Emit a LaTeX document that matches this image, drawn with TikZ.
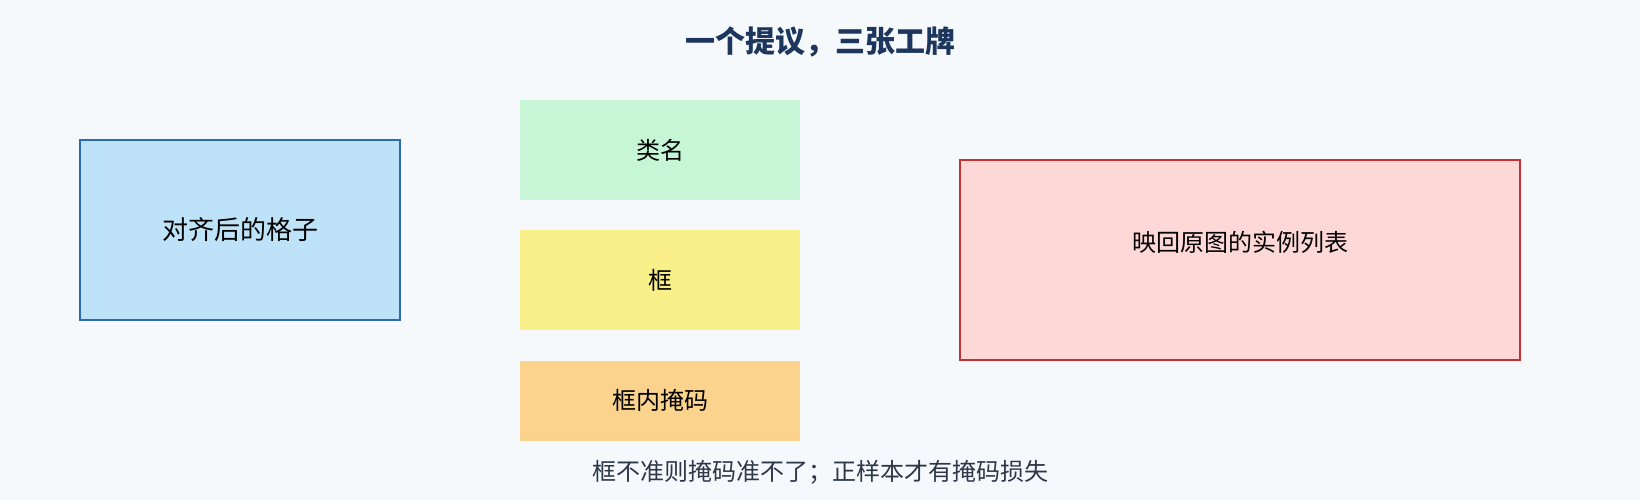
\documentclass[tikz,border=0pt]{standalone}
\usepackage{fontspec}
\newfontfamily\cjk{Noto Sans CJK SC}
\usetikzlibrary{positioning}
\definecolor{bgcol}{HTML}{F5F9FC}
\definecolor{titlecol}{HTML}{1C365D}
\definecolor{notecol}{HTML}{2D3748}
\definecolor{gridfill}{HTML}{BEE3F8}
\definecolor{griddraw}{HTML}{2B6CB0}
\definecolor{clsfill}{HTML}{C6F6D5}
\definecolor{boxfill}{HTML}{FAF089}
\definecolor{maskfill}{HTML}{FBD38D}
\definecolor{listfill}{HTML}{FED7D7}
\definecolor{listdraw}{HTML}{C53030}
\tikzset{card/.style={rectangle,inner sep=0pt,minimum width=280pt,minimum height=100pt,
    font=\cjk\fontsize{24}{28}\selectfont,text=black},
  bigcard/.style={card,line width=1.5pt},}

\begin{document}
\begin{tikzpicture}[x=1pt, y=-1pt]
   \fill[bgcol] (0,0) rectangle (1640,500);
   \useasboundingbox (0,0) rectangle (1640,500);
   \node[font=\cjk\bfseries\fontsize{30}{34}\selectfont, text=titlecol] (title) at (820,42) {一个提议，三张工牌};
   \node[bigcard, fill=gridfill, draw=griddraw, minimum width=320pt, minimum height=180pt,
     font=\cjk\fontsize{26}{30}\selectfont] (grid) at (240,230) {对齐后的格子};
   \node[card, fill=clsfill] (cls) at (660,150) {类名};
   \node[card, fill=boxfill] (box) [below = 30pt of cls] {框};
   \node[card, fill=maskfill, minimum height=80pt] (mask) [below = 30pt of box] {框内掩码};
   \node[bigcard, fill=listfill, draw=listdraw, minimum width=560pt, minimum height=200pt] (list) at (1240,260) {};
   \node[card, minimum width=0pt, minimum height=0pt] (listtext) at ([yshift=18pt]list.center) {映回原图的实例列表};
   \node[font=\cjk\fontsize{24}{28}\selectfont, text=notecol] (note) at (820,472) {框不准则掩码准不了；正样本才有掩码损失};
\end{tikzpicture}
\end{document}
